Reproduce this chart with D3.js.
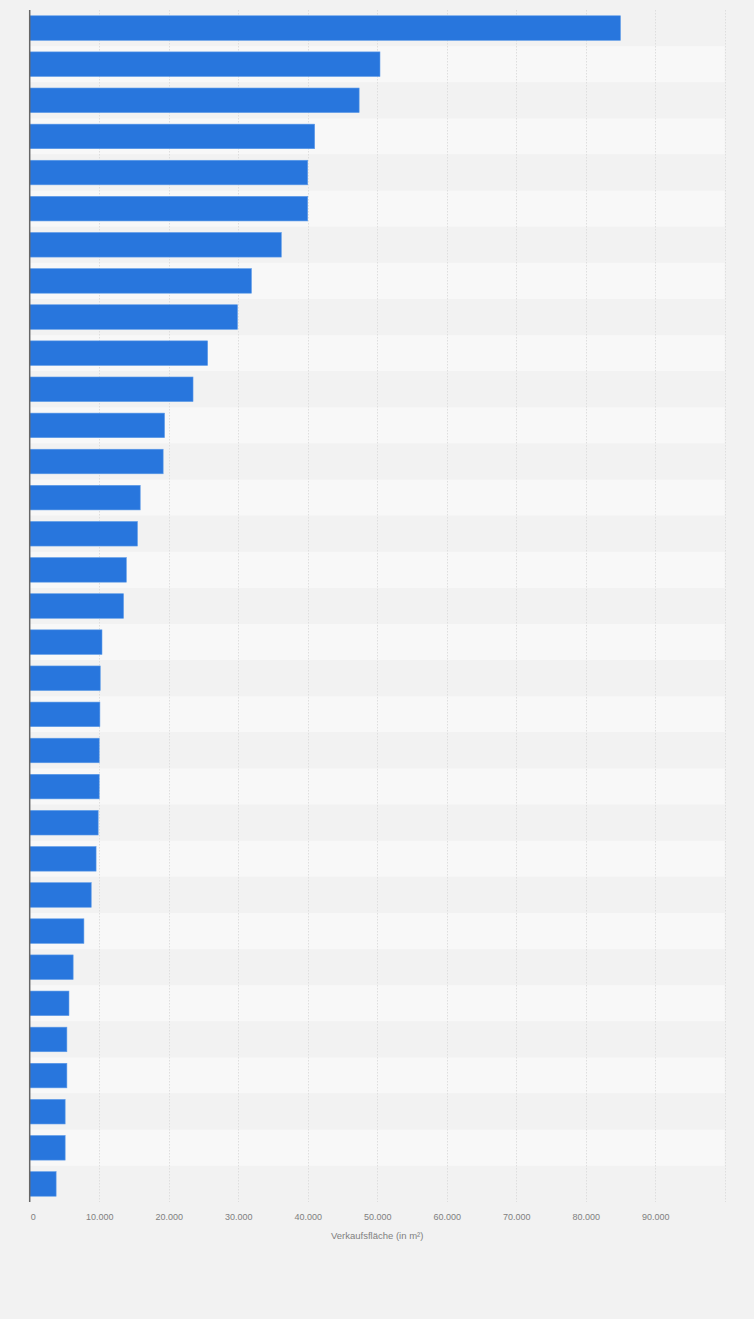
<!DOCTYPE html>
<html>
<head>
<meta charset="utf-8">
<script src="https://cdn.jsdelivr.net/npm/d3@7"></script>
<style>
  html, body { margin: 0; padding: 0; background: #f2f2f2; }
  svg { display: block; font-family: "Liberation Sans", Arial, sans-serif; }
</style>
</head>
<body>
<svg id="chart" width="754" height="1319"></svg>
<script>
// Data (category labels are not shown in the reference)
const categories = [
  "Rang 1","Rang 2","Rang 3","Rang 4","Rang 5","Rang 6","Rang 7","Rang 8","Rang 9","Rang 10",
  "Rang 11","Rang 12","Rang 13","Rang 14","Rang 15","Rang 16","Rang 17","Rang 18","Rang 19","Rang 20",
  "Rang 21","Rang 22","Rang 23","Rang 24","Rang 25","Rang 26","Rang 27","Rang 28","Rang 29","Rang 30",
  "Rang 31","Rang 32","Rang 33"
];
const values = [
  85000, 50400, 47400, 41000, 40000, 40000, 36200, 31900, 29900, 25600,
  23500, 19400, 19200, 15900, 15500, 13900, 13500, 10400, 10150, 10100,
  10000, 10000, 9850, 9550, 8850, 7800, 6250, 5650, 5350, 5350,
  5100, 5100, 3800
];
const tickValues = [0, 10000, 20000, 30000, 40000, 50000, 60000, 70000, 80000, 90000, 100000];
const tickLabels = ["0", "10.000", "20.000", "30.000", "40.000", "50.000", "60.000", "70.000", "80.000", "90.000", ""];
const axisTitle = "Verkaufsfläche (in m²)";

const svg = d3.select("#chart");
const margin = { left: 29.7, right: 29.3, top: 10, bottom: 117 };
const W = 754, H = 1319;

const x = d3.scaleLinear().domain([0, 100000]).range([margin.left, W - margin.right]);
const y = d3.scaleBand().domain(categories).range([margin.top, 1202]).paddingInner(0.32).paddingOuter(0.16);
const yRow = d3.scaleBand().domain(categories).range([margin.top, 1202]).padding(0);

// Alternating row stripes
svg.append("g").selectAll("rect")
  .data(categories)
  .join("rect")
  .attr("x", x(0))
  .attr("width", x(100000) - x(0))
  .attr("y", d => yRow(d))
  .attr("height", yRow.bandwidth())
  .attr("fill", (d, i) => i % 2 === 0 ? "#f2f2f2" : "#f8f8f8");

// Grid lines
svg.append("g").selectAll("line")
  .data(tickValues.slice(1))
  .join("line")
  .attr("x1", d => Math.round(x(d)) + 0.5)
  .attr("x2", d => Math.round(x(d)) + 0.5)
  .attr("y1", margin.top)
  .attr("y2", 1202)
  .attr("stroke", "#dedede")
  .attr("stroke-width", 1)
  .attr("stroke-dasharray", "1.5,1.5");

// Bars
svg.append("g").selectAll("rect")
  .data(values)
  .join("rect")
  .attr("x", x(0))
  .attr("y", (d, i) => y(categories[i]))
  .attr("width", d => x(d) - x(0))
  .attr("height", y.bandwidth())
  .attr("fill", "#2876dd")
  .attr("stroke", "#5d9be8")
  .attr("stroke-width", 0.6);

// Y axis (no labels)
const yAxis = d3.axisLeft(y).tickSize(0).tickFormat("");
const yg = svg.append("g").attr("transform", `translate(${x(0)},0)`).call(yAxis);
yg.select(".domain").attr("stroke", "#666").attr("stroke-width", 1.5)
  .attr("d", `M0,${margin.top}V1202`);

// X axis
const xAxis = d3.axisBottom(x).tickValues(tickValues).tickSize(0)
  .tickFormat((d, i) => tickLabels[i]);
const xg = svg.append("g").attr("transform", "translate(0,1202)").call(xAxis);
xg.select(".domain").remove();
xg.selectAll("text")
  .attr("dy", "0")
  .attr("y", 17.5)
  .attr("fill", "#808080")
  .attr("font-size", "9px")
  .attr("font-family", "'Liberation Sans', Arial, sans-serif");
xg.selectAll(".tick").filter(d => d === 0).select("text").attr("dx", 3);

// Axis title
svg.append("text")
  .attr("x", (x(0) + x(100000)) / 2)
  .attr("y", 1239)
  .attr("text-anchor", "middle")
  .attr("fill", "#808080")
  .attr("font-size", "9.5px")
  .text(axisTitle);
</script>
</body>
</html>
